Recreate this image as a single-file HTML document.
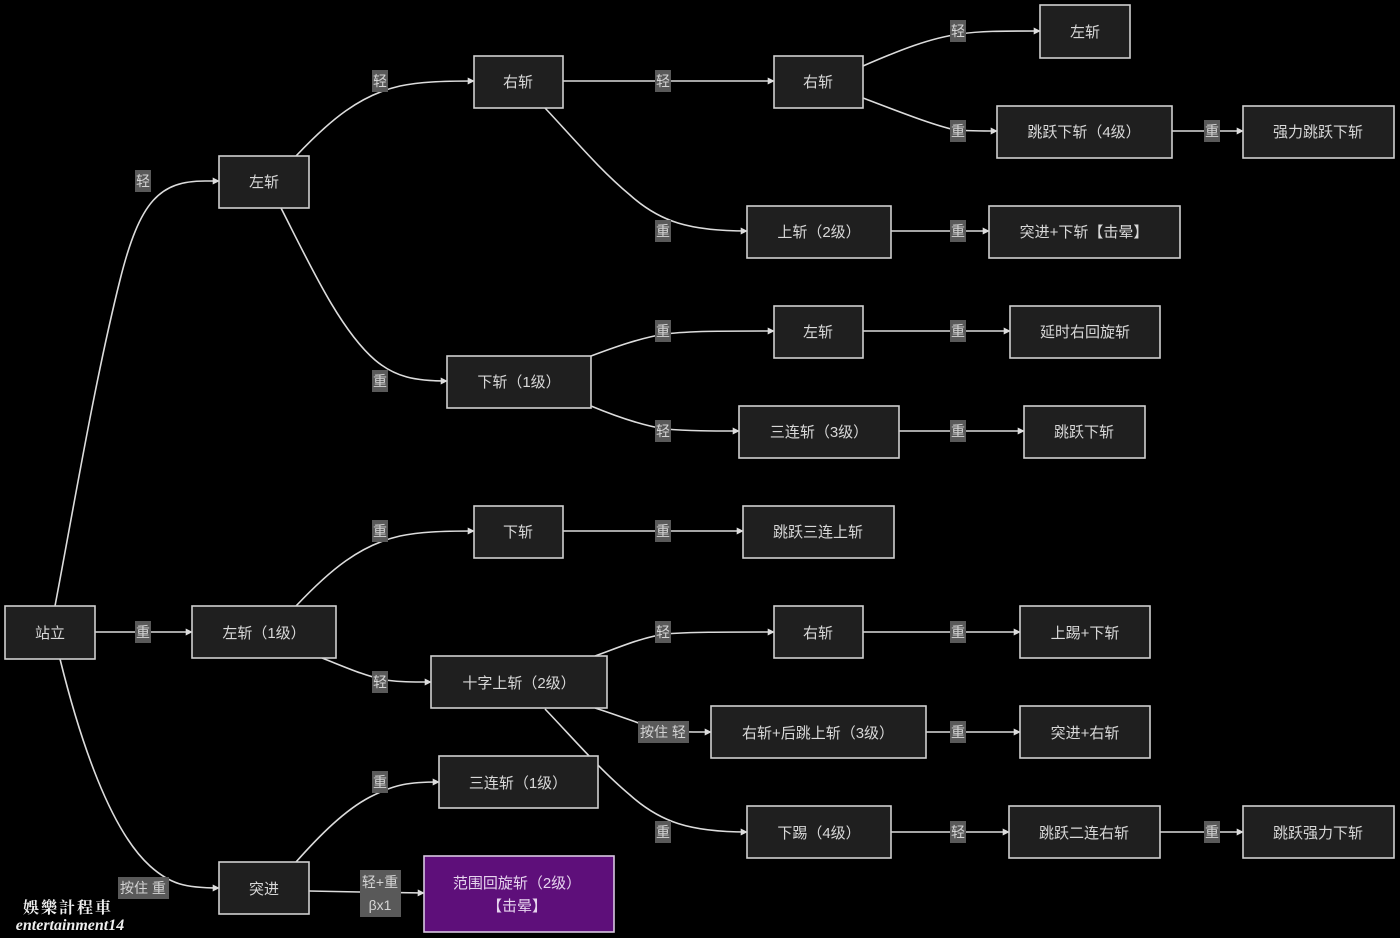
<!DOCTYPE html>
<html><head><meta charset="utf-8">
<style>
html,body{margin:0;padding:0;background:#000;width:1400px;height:938px;overflow:hidden}
svg{display:block}
.n{fill:#1f1f1f;stroke:#cfcfcf;stroke-width:1.6}
.t{font-family:"Liberation Sans","Noto Sans CJK SC",sans-serif;font-size:15px;fill:#d8d8d8;text-anchor:middle}
.e{fill:none;stroke:#dcdcdc;stroke-width:1.6}
.lb{fill:#595959}
.lt{font-family:"Liberation Sans","Noto Sans CJK SC",sans-serif;font-size:14px;fill:#d4d4d4;text-anchor:middle}
</style></head><body>
<svg width="1400" height="938" viewBox="0 0 1400 938" xmlns="http://www.w3.org/2000/svg">
<defs>
<marker id="a" viewBox="0 0 10 10" refX="9" refY="5" markerWidth="7" markerHeight="7" orient="auto" markerUnits="userSpaceOnUse">
<path d="M0,0 L10,5 L0,10 z" fill="#dcdcdc"/>
</marker>
</defs>
<rect width="1400" height="938" fill="#000"/>

<!-- edges -->
<g class="e" marker-end="url(#a)">
<path class="e" marker-end="url(#a)" d="M55,606 C75,500 95,380 120,280 C140,200 160,181 205,181 L219,181"/>
<path class="e" marker-end="url(#a)" d="M60,659 C80,740 110,830 150,866 C170,884 185,888 219,888"/>
<path class="e" marker-end="url(#a)" d="M95,632 L192,632"/>
<path class="e" marker-end="url(#a)" d="M296,156 C330,120 360,95 400,86 C420,82 440,81 474,81"/>
<path class="e" marker-end="url(#a)" d="M281,208 C310,265 340,330 375,360 C395,377 415,381 447,381"/>
<path class="e" marker-end="url(#a)" d="M563,81 L774,81"/>
<path class="e" marker-end="url(#a)" d="M545,108 C575,140 600,170 630,195 C660,222 690,231 747,231"/>
<path class="e" marker-end="url(#a)" d="M863,66 C900,50 930,38 960,34 C980,31 1000,31 1040,31"/>
<path class="e" marker-end="url(#a)" d="M863,98 C900,112 930,124 955,130 C970,131 980,131 997,131"/>
<path class="e" marker-end="url(#a)" d="M1172,131 L1243,131"/>
<path class="e" marker-end="url(#a)" d="M891,231 L989,231"/>
<path class="e" marker-end="url(#a)" d="M591,356 C615,347 640,338 665,334 C690,331 720,331 774,331"/>
<path class="e" marker-end="url(#a)" d="M591,406 C615,416 640,425 665,429 C690,431 710,431 739,431"/>
<path class="e" marker-end="url(#a)" d="M863,331 L1010,331"/>
<path class="e" marker-end="url(#a)" d="M899,431 L1024,431"/>
<path class="e" marker-end="url(#a)" d="M296,606 C330,570 360,545 400,536 C420,532 440,531 474,531"/>
<path class="e" marker-end="url(#a)" d="M563,531 L743,531"/>
<path class="e" marker-end="url(#a)" d="M322,658 C345,667 365,676 385,680 C400,682 410,682 431,682"/>
<path class="e" marker-end="url(#a)" d="M595,656 C620,647 640,638 665,634 C690,632 720,632 774,632"/>
<path class="e" marker-end="url(#a)" d="M863,632 L1020,632"/>
<path class="e" marker-end="url(#a)" d="M595,708 C620,716 640,724 660,730 C670,732 690,732 711,732"/>
<path class="e" marker-end="url(#a)" d="M926,732 L1020,732"/>
<path class="e" marker-end="url(#a)" d="M545,709 C570,735 600,770 630,795 C660,822 690,832 747,832"/>
<path class="e" marker-end="url(#a)" d="M891,832 L1009,832"/>
<path class="e" marker-end="url(#a)" d="M1160,832 L1243,832"/>
<path class="e" marker-end="url(#a)" d="M296,862 C320,835 345,810 370,797 C395,784 410,782 439,782"/>
<path class="e" marker-end="url(#a)" d="M309,891 L360,892 L424,893"/>
</g>

<!-- nodes -->
<rect class="n" x="5" y="606" width="90" height="53"/><text class="t" x="50" y="638">站立</text>
<rect class="n" x="219" y="156" width="90" height="52"/><text class="t" x="264" y="187">左斩</text>
<rect class="n" x="474" y="56" width="89" height="52"/><text class="t" x="518" y="87">右斩</text>
<rect class="n" x="774" y="56" width="89" height="52"/><text class="t" x="818" y="87">右斩</text>
<rect class="n" x="1040" y="5" width="90" height="53"/><text class="t" x="1085" y="37">左斩</text>
<rect class="n" x="997" y="106" width="175" height="52"/><text class="t" x="1084" y="137">跳跃下斩（4级）</text>
<rect class="n" x="1243" y="106" width="151" height="52"/><text class="t" x="1318" y="137">强力跳跃下斩</text>
<rect class="n" x="747" y="206" width="144" height="52"/><text class="t" x="819" y="237">上斩（2级）</text>
<rect class="n" x="989" y="206" width="191" height="52"/><text class="t" x="1084" y="237">突进+下斩【击晕】</text>
<rect class="n" x="447" y="356" width="144" height="52"/><text class="t" x="519" y="387">下斩（1级）</text>
<rect class="n" x="774" y="306" width="89" height="52"/><text class="t" x="818" y="337">左斩</text>
<rect class="n" x="1010" y="306" width="150" height="52"/><text class="t" x="1085" y="337">延时右回旋斩</text>
<rect class="n" x="739" y="406" width="160" height="52"/><text class="t" x="819" y="437">三连斩（3级）</text>
<rect class="n" x="1024" y="406" width="121" height="52"/><text class="t" x="1084" y="437">跳跃下斩</text>
<rect class="n" x="474" y="506" width="89" height="52"/><text class="t" x="518" y="537">下斩</text>
<rect class="n" x="743" y="506" width="151" height="52"/><text class="t" x="818" y="537">跳跃三连上斩</text>
<rect class="n" x="192" y="606" width="144" height="52"/><text class="t" x="264" y="638">左斩（1级）</text>
<rect class="n" x="431" y="656" width="176" height="52"/><text class="t" x="519" y="688">十字上斩（2级）</text>
<rect class="n" x="774" y="606" width="89" height="52"/><text class="t" x="818" y="638">右斩</text>
<rect class="n" x="1020" y="606" width="130" height="52"/><text class="t" x="1085" y="638">上踢+下斩</text>
<rect class="n" x="711" y="706" width="215" height="52"/><text class="t" x="818" y="738">右斩+后跳上斩（3级）</text>
<rect class="n" x="1020" y="706" width="130" height="52"/><text class="t" x="1085" y="738">突进+右斩</text>
<rect class="n" x="439" y="756" width="159" height="52"/><text class="t" x="518" y="788">三连斩（1级）</text>
<rect class="n" x="747" y="806" width="144" height="52"/><text class="t" x="819" y="838">下踢（4级）</text>
<rect class="n" x="1009" y="806" width="151" height="52"/><text class="t" x="1084" y="838">跳跃二连右斩</text>
<rect class="n" x="1243" y="806" width="151" height="52"/><text class="t" x="1318" y="838">跳跃强力下斩</text>
<rect class="n" x="219" y="862" width="90" height="52"/><text class="t" x="264" y="894">突进</text>
<rect x="424" y="856" width="190" height="76" fill="#5e0f7a" stroke="#d8c8e0" stroke-width="1.6"/>
<text class="t" x="517" y="888" style="fill:#e6d4ee">范围回旋斩（2级）</text>
<text class="t" x="517" y="911" style="fill:#e6d4ee">【击晕】</text>

<!-- edge labels -->
<g>
<rect class="lb" x="135" y="170" width="16" height="22"/><text class="lt" x="143" y="186">轻</text>
<rect class="lb" x="372" y="70" width="16" height="22"/><text class="lt" x="380" y="86">轻</text>
<rect class="lb" x="372" y="370" width="16" height="22"/><text class="lt" x="380" y="386">重</text>
<rect class="lb" x="655" y="70" width="16" height="22"/><text class="lt" x="663" y="86">轻</text>
<rect class="lb" x="655" y="220" width="16" height="22"/><text class="lt" x="663" y="236">重</text>
<rect class="lb" x="950" y="20" width="16" height="22"/><text class="lt" x="958" y="36">轻</text>
<rect class="lb" x="950" y="120" width="16" height="22"/><text class="lt" x="958" y="136">重</text>
<rect class="lb" x="1204" y="120" width="16" height="22"/><text class="lt" x="1212" y="136">重</text>
<rect class="lb" x="950" y="220" width="16" height="22"/><text class="lt" x="958" y="236">重</text>
<rect class="lb" x="655" y="320" width="16" height="22"/><text class="lt" x="663" y="336">重</text>
<rect class="lb" x="655" y="420" width="16" height="22"/><text class="lt" x="663" y="436">轻</text>
<rect class="lb" x="950" y="320" width="16" height="22"/><text class="lt" x="958" y="336">重</text>
<rect class="lb" x="950" y="420" width="16" height="22"/><text class="lt" x="958" y="436">重</text>
<rect class="lb" x="372" y="520" width="16" height="22"/><text class="lt" x="380" y="536">重</text>
<rect class="lb" x="655" y="520" width="16" height="22"/><text class="lt" x="663" y="536">重</text>
<rect class="lb" x="135" y="621" width="16" height="22"/><text class="lt" x="143" y="637">重</text>
<rect class="lb" x="372" y="671" width="16" height="22"/><text class="lt" x="380" y="687">轻</text>
<rect class="lb" x="655" y="621" width="16" height="22"/><text class="lt" x="663" y="637">轻</text>
<rect class="lb" x="950" y="621" width="16" height="22"/><text class="lt" x="958" y="637">重</text>
<rect class="lb" x="638" y="721" width="51" height="22"/><text class="lt" x="663" y="737">按住 轻</text>
<rect class="lb" x="950" y="721" width="16" height="22"/><text class="lt" x="958" y="737">重</text>
<rect class="lb" x="655" y="821" width="16" height="22"/><text class="lt" x="663" y="837">重</text>
<rect class="lb" x="950" y="821" width="16" height="22"/><text class="lt" x="958" y="837">轻</text>
<rect class="lb" x="1204" y="821" width="16" height="22"/><text class="lt" x="1212" y="837">重</text>
<rect class="lb" x="372" y="771" width="16" height="22"/><text class="lt" x="380" y="787">重</text>
<rect class="lb" x="118" y="877" width="51" height="22"/><text class="lt" x="143" y="893">按住 重</text>
<rect class="lb" x="360" y="870" width="41" height="47"/>
<text class="lt" x="380" y="887">轻+重</text>
<text class="lt" x="380" y="910">βx1</text>
</g>

<!-- watermark -->
<text x="68" y="913" style="font-family:'Noto Serif CJK SC','Liberation Serif',serif;font-size:16px;fill:#eee;text-anchor:middle;letter-spacing:2px;font-weight:bold">娛樂計程車</text>
<text x="70" y="930" style="font-family:'Liberation Serif',serif;font-size:16px;font-style:italic;font-weight:bold;fill:#eee;text-anchor:middle">entertainment14</text>
</svg>
</body></html>
